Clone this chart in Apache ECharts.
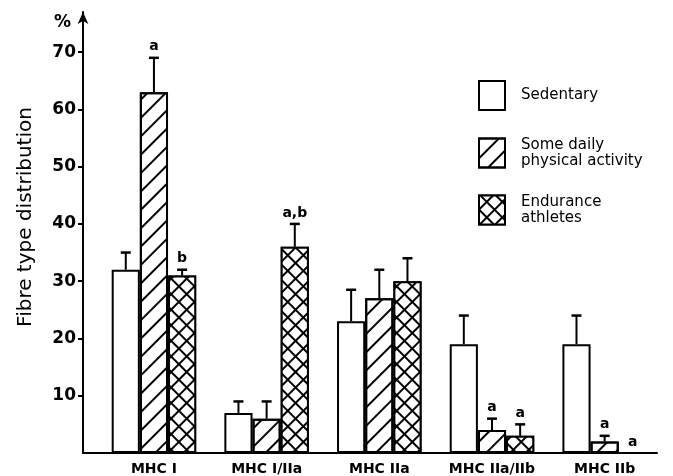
<!DOCTYPE html>
<html><head><meta charset="utf-8">
<script src="https://cdn.jsdelivr.net/npm/echarts@6/dist/echarts.min.js"></script>
<style>html,body{margin:0;padding:0;background:#fff}#c{width:673px;height:476px}</style>
</head><body><div id="c"></div>
<script>
// ---- data ----
var categories = ['MHC I', 'MHC I/IIa', 'MHC IIa', 'MHC IIa/IIb', 'MHC IIb'];
var seriesNames = ['Sedentary', 'Some daily physical activity', 'Endurance athletes'];
var sedentary = [32, 7, 23, 19, 19];
var sedentaryErr = [3, 2, 5.5, 5, 5];
var sedentarySig = ['', '', '', '', ''];
var someDaily = [63, 6, 27, 4, 2];
var someDailyErr = [6, 3, 5, 2, 1];
var someDailySig = ['a', '', '', 'a', 'a'];
var endurance = [31, 36, 30, 3, 0];
var enduranceErr = [1, 4, 4, 2, 0];
var enduranceSig = ['b', 'a,b', '', 'a', 'a'];
var yTicks = [10, 20, 30, 40, 50, 60, 70];

var BAR_FRAC = 0.25;
var FONT = 'DejaVu Sans';

var hatch = {symbol: 'rect', symbolSize: 1, color: '#000', dashArrayX: [1, 0], dashArrayY: [2, 10.5], rotation: -Math.PI / 4};
var cross = {symbol: 'rect', symbolSize: 1, color: '#fff', backgroundColor: '#000', dashArrayX: [8.2, 1.8], dashArrayY: [8.2, 1.8], rotation: Math.PI / 4};
var decals = [null, hatch, cross];

var values = [sedentary, someDaily, endurance];
var errs = [sedentaryErr, someDailyErr, enduranceErr];
var sigs = [sedentarySig, someDailySig, enduranceSig];

function errRender(offsetIdx) {
  return function (params, api) {
    var cat = api.value(0), v = api.value(1), e = api.value(2);
    var sig = sigs[offsetIdx][params.dataIndex];
    var band = api.size([1, 0])[0];
    var dx = (offsetIdx - 1) * band * BAR_FRAC;
    var p0 = api.coord([cat, v]);
    var p1 = api.coord([cat, v + e]);
    var x = p0[0] + dx;
    var children = [];
    if (e > 0) {
      children.push({type: 'line', shape: {x1: x, y1: p0[1], x2: x, y2: p1[1]}, style: {stroke: '#000', lineWidth: 2}});
      children.push({type: 'line', shape: {x1: x - 5, y1: p1[1], x2: x + 5, y2: p1[1]}, style: {stroke: '#000', lineWidth: 2.5}});
    }
    if (sig) {
      children.push({type: 'text', x: x, y: p1[1] - 4, style: {text: sig, font: 'bold 14px ' + FONT, fill: '#000', align: 'center', verticalAlign: 'bottom'}});
    }
    return {type: 'group', children: children};
  };
}

var series = [];
for (var s = 0; s < 3; s++) {
  var itemStyle = {color: '#fff', borderColor: '#000', borderWidth: 2};
  if (decals[s]) itemStyle.decal = decals[s];
  series.push({
    name: seriesNames[s], type: 'bar', xAxisIndex: 1, yAxisIndex: 1,
    barWidth: (BAR_FRAC * 100) + '%', barGap: '0%',
    data: values[s], itemStyle: itemStyle, silent: true
  });
}
for (var s2 = 0; s2 < 3; s2++) {
  series.push({
    type: 'custom', xAxisIndex: 1, yAxisIndex: 1, silent: true, z: 5,
    renderItem: errRender(s2),
    data: categories.map(function (c, i) { return [i, values[s2][i], errs[s2][i]]; })
  });
}

function legendFor(i, top) {
  return {
    data: [seriesNames[i]], left: 478, top: top, orient: 'vertical', padding: 0,
    icon: 'rect', itemWidth: 26, itemHeight: 29, selectedMode: false,
    itemStyle: {borderColor: '#000', borderWidth: 2},
    formatter: function (n) { return n.replace('Some daily ', 'Some daily\n').replace('Endurance ', 'Endurance\n'); },
    textStyle: {fontFamily: FONT, fontSize: 15, color: '#000', lineHeight: 16, padding: [0, 0, 0, 11]}
  };
}

var chart = echarts.init(document.getElementById('c'), null, {renderer: 'canvas'});
chart.setOption({
  animation: false,
  backgroundColor: '#fff',
  title: {text: '%', left: 54, top: 14, padding: 0, textStyle: {fontFamily: FONT, fontSize: 17, fontWeight: 'bold', color: '#000'}},
  graphic: [{type: 'text', x: 26, y: 217, rotation: Math.PI / 2,
    style: {text: 'Fibre type distribution', font: '20px ' + FONT, fill: '#000', align: 'center', verticalAlign: 'middle'}}],
  legend: [legendFor(0, 80), legendFor(1, 137), legendFor(2, 194)],
  grid: [
    {left: 83, right: 16, top: 12, bottom: 23},
    {left: 97.6, right: 12, top: 12, bottom: 23}
  ],
  xAxis: [
    {type: 'value', gridIndex: 0, min: 0, max: 1, axisLine: {show: true, lineStyle: {color: '#000', width: 2}},
      axisTick: {show: false}, axisLabel: {show: false}, splitLine: {show: false}},
    {type: 'category', gridIndex: 1, data: categories, axisLine: {show: false}, axisTick: {show: false},
      axisLabel: {interval: 0, hideOverlap: false, margin: 9, fontFamily: FONT, fontSize: 14, fontWeight: 'bold', color: '#000'}}
  ],
  yAxis: [
    {type: 'value', gridIndex: 0, min: 0, max: 77,
      axisLine: {show: true, symbol: ['none', 'arrow'], symbolSize: [8, 12], lineStyle: {color: '#000', width: 2}},
      axisTick: {show: true, length: 5, customValues: yTicks, lineStyle: {color: '#000', width: 2}},
      axisLabel: {customValues: yTicks, margin: 7, fontFamily: FONT, fontSize: 17, fontWeight: 'bold', color: '#000'},
      splitLine: {show: false}},
    {type: 'value', gridIndex: 1, min: 0, max: 77, show: false, splitLine: {show: false}}
  ],
  series: series
});
</script></body></html>
